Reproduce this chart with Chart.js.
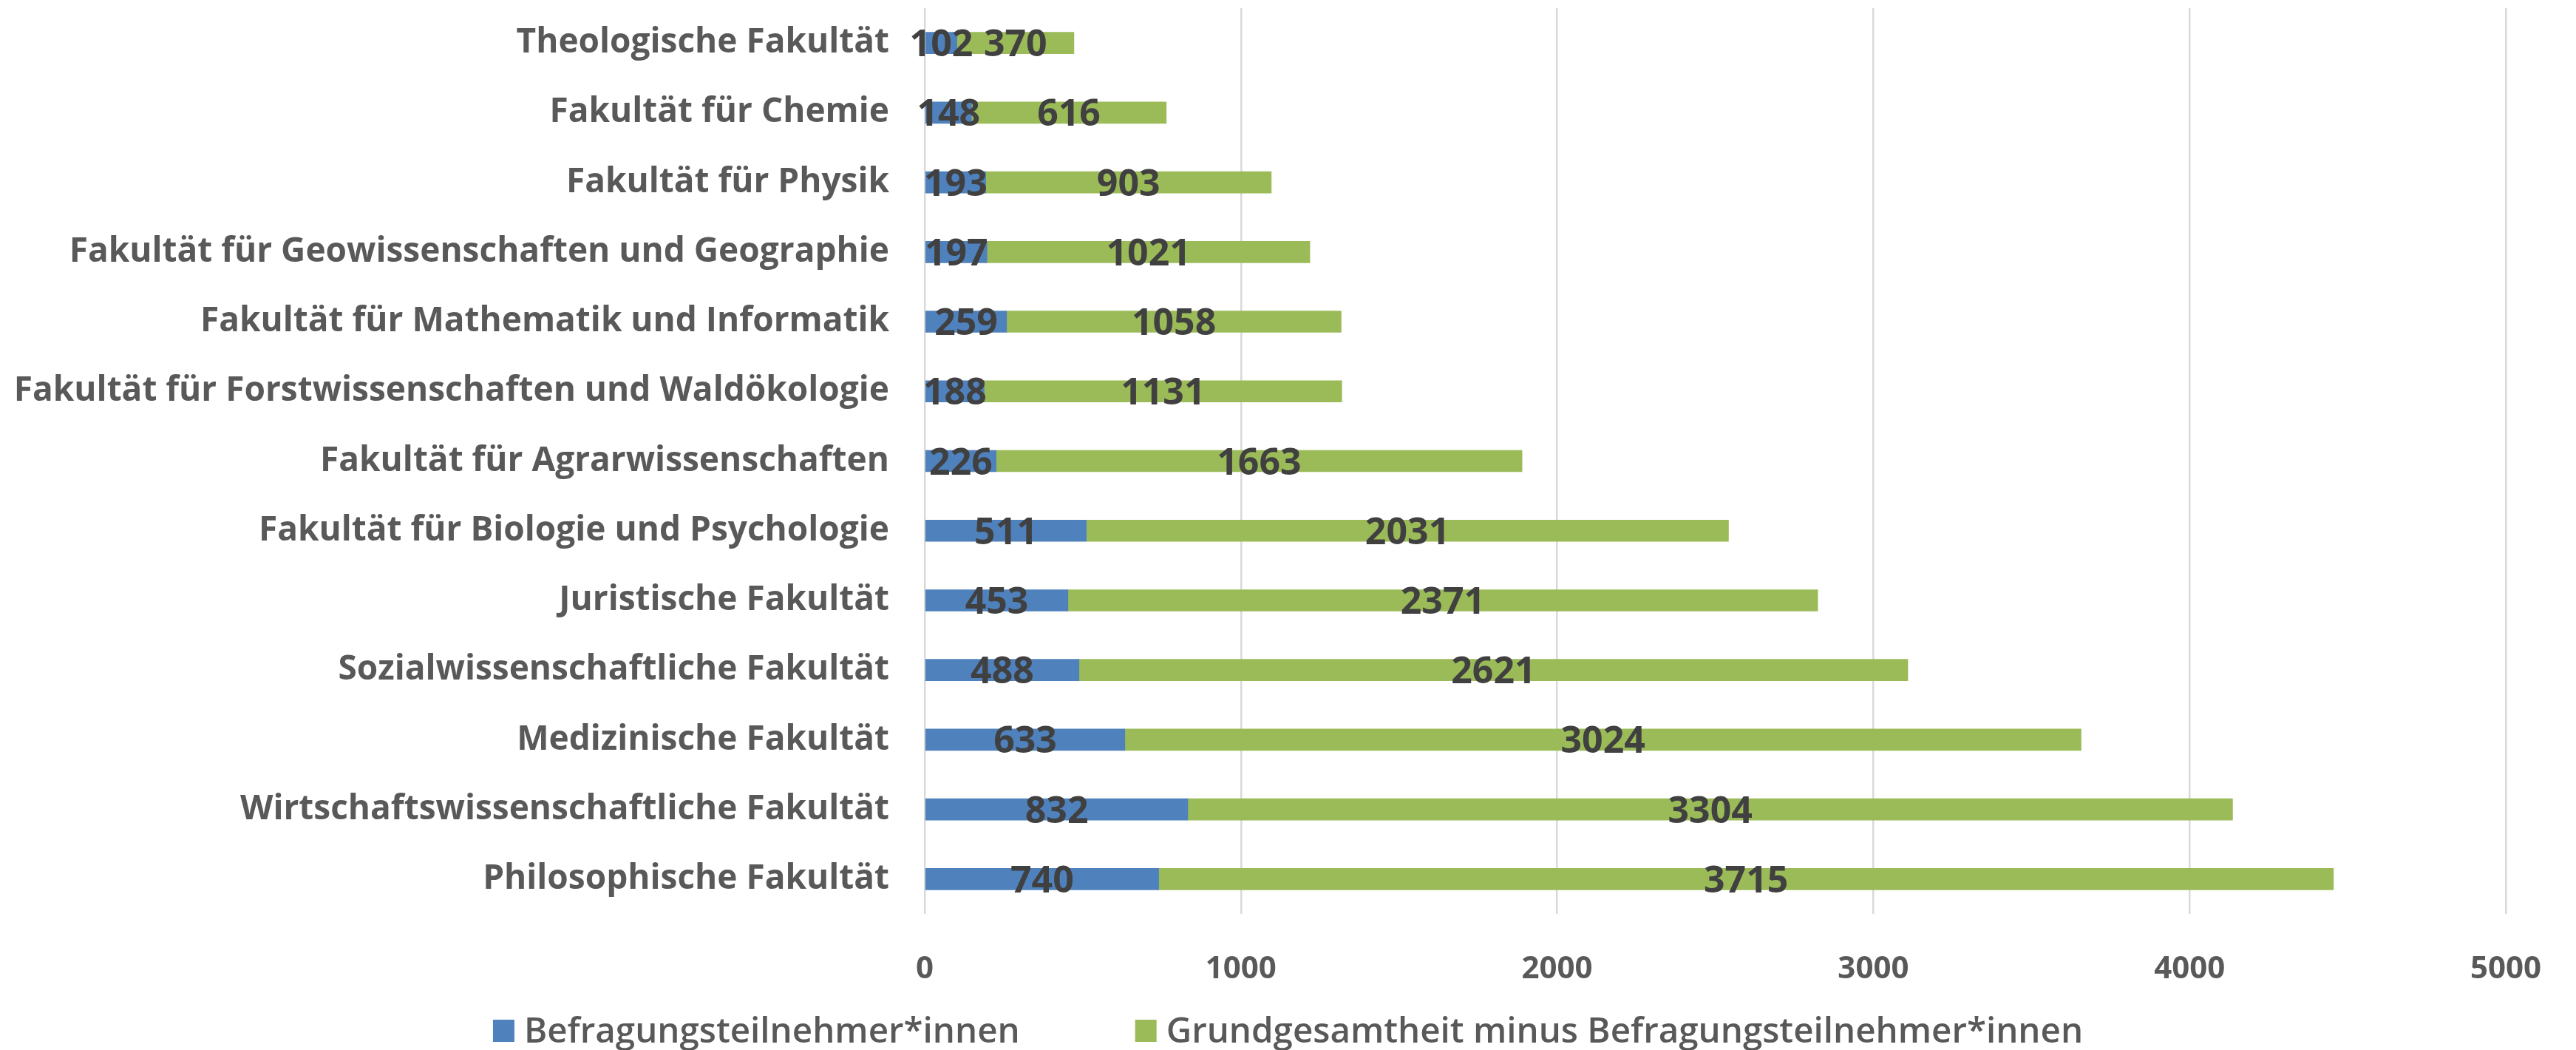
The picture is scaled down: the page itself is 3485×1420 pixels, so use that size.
<!DOCTYPE html>
<html lang="de">
<head>
<meta charset="utf-8">
<title>Befragungsteilnehmer*innen nach Fakultät</title>
<script src="https://cdn.jsdelivr.net/npm/chart.js@4.4.1/dist/chart.umd.min.js"></script>
<style>
  html, body { margin: 0; padding: 0; background: #ffffff; }
  #wrap { width: 3485px; height: 1420px; position: relative; }
</style>
</head>
<body>
<div id="wrap"><canvas id="chart" width="3485" height="1420"></canvas></div>
<script>
var fakultaeten = [
  "Theologische Fakultät",
  "Fakultät für Chemie",
  "Fakultät für Physik",
  "Fakultät für Geowissenschaften und Geographie",
  "Fakultät für Mathematik und Informatik",
  "Fakultät für Forstwissenschaften und Waldökologie",
  "Fakultät für Agrarwissenschaften",
  "Fakultät für Biologie und Psychologie",
  "Juristische Fakultät",
  "Sozialwissenschaftliche Fakultät",
  "Medizinische Fakultät",
  "Wirtschaftswissenschaftliche Fakultät",
  "Philosophische Fakultät"
];
var teilnehmer = [102, 148, 193, 197, 259, 188, 226, 511, 453, 488, 633, 832, 740];
var restGesamtheit = [370, 616, 903, 1021, 1058, 1131, 1663, 2031, 2371, 2621, 3024, 3304, 3715];
var serienNamen = [
  "Befragungsteilnehmer*innen",
  "Grundgesamtheit minus Befragungsteilnehmer*innen"
];
var xTicks = [0, 1000, 2000, 3000, 4000, 5000];

(function () {
  var FONT = "'Open Sans', 'Noto Sans', sans-serif";
  var GRAU = "#595959";

  // Werte mittig in jedes Segment schreiben
  var wertePlugin = {
    id: "segmentWerte",
    afterDatasetsDraw: function (chart) {
      var ctx = chart.ctx;
      ctx.save();
      ctx.font = "700 50px " + FONT;
      ctx.fillStyle = "#404040";
      ctx.textAlign = "center";
      ctx.textBaseline = "alphabetic";
      chart.data.datasets.forEach(function (ds, i) {
        var meta = chart.getDatasetMeta(i);
        meta.data.forEach(function (bar, j) {
          var p = bar.getProps(["x", "y", "base"], true);
          ctx.fillText(String(ds.data[j]), (p.x + p.base) / 2, p.y + 18);
        });
      });
      ctx.restore();
    }
  };

  // Legende unten, zentriert
  var legendePlugin = {
    id: "legendeUnten",
    afterDraw: function (chart) {
      var ctx = chart.ctx;
      var box = 29, abstand = 13, luecke = 156;
      ctx.save();
      ctx.font = "600 47.5px " + FONT;
      var breiten = chart.data.datasets.map(function (ds) {
        return box + abstand + ctx.measureText(ds.label).width;
      });
      var gesamt = breiten.reduce(function (a, b) { return a + b; }, 0) + luecke * (breiten.length - 1);
      var x = chart.width / 2 - gesamt / 2;
      var y = chart.height - 26;
      chart.data.datasets.forEach(function (ds, i) {
        ctx.fillStyle = ds.backgroundColor;
        ctx.fillRect(x, y - 15, box, 30);
        ctx.fillStyle = GRAU;
        ctx.textAlign = "left";
        ctx.textBaseline = "middle";
        ctx.fillText(ds.label, x + box + abstand, y + 2);
        x += breiten[i] + luecke;
      });
      ctx.restore();
    }
  };

  new Chart(document.getElementById("chart"), {
    type: "bar",
    data: {
      labels: fakultaeten,
      datasets: [
        {
          label: serienNamen[0],
          data: teilnehmer,
          backgroundColor: "#4f81bd",
          barThickness: 29
        },
        {
          label: serienNamen[1],
          data: restGesamtheit,
          backgroundColor: "#9bbb59",
          barThickness: 29
        }
      ]
    },
    options: {
      indexAxis: "y",
      responsive: false,
      animation: false,
      layout: { padding: { left: 0, right: 95, top: 11, bottom: 0 } },
      plugins: {
        legend: { display: false },
        tooltip: { enabled: false }
      },
      scales: {
        x: {
          stacked: true,
          min: 0,
          max: 5000,
          afterBuildTicks: function (s) {
            s.ticks = xTicks.map(function (v) { return { value: v }; });
          },
          afterFit: function (s) {
            s.height = 184;
            s.paddingLeft = 0;
            s.paddingRight = 0;
          },
          grid: { color: "#d9d9d9", lineWidth: 2.5, drawTicks: false },
          border: { display: false },
          ticks: {
            padding: 50,
            color: GRAU,
            font: { family: FONT, size: 42, weight: "700" },
            callback: function (v) {
              return String(v);
            }
          }
        },
        y: {
          stacked: true,
          afterFit: function (s) {
            s.width = 1251;
            s.paddingTop = 0;
            s.paddingBottom = 0;
          },
          grid: { display: false, drawTicks: false },
          border: { display: false },
          ticks: {
            padding: 48,
            color: GRAU,
            font: { family: FONT, size: 46, weight: "700" }
          }
        }
      }
    },
    plugins: [wertePlugin, legendePlugin]
  });
})();
</script>
</body>
</html>
